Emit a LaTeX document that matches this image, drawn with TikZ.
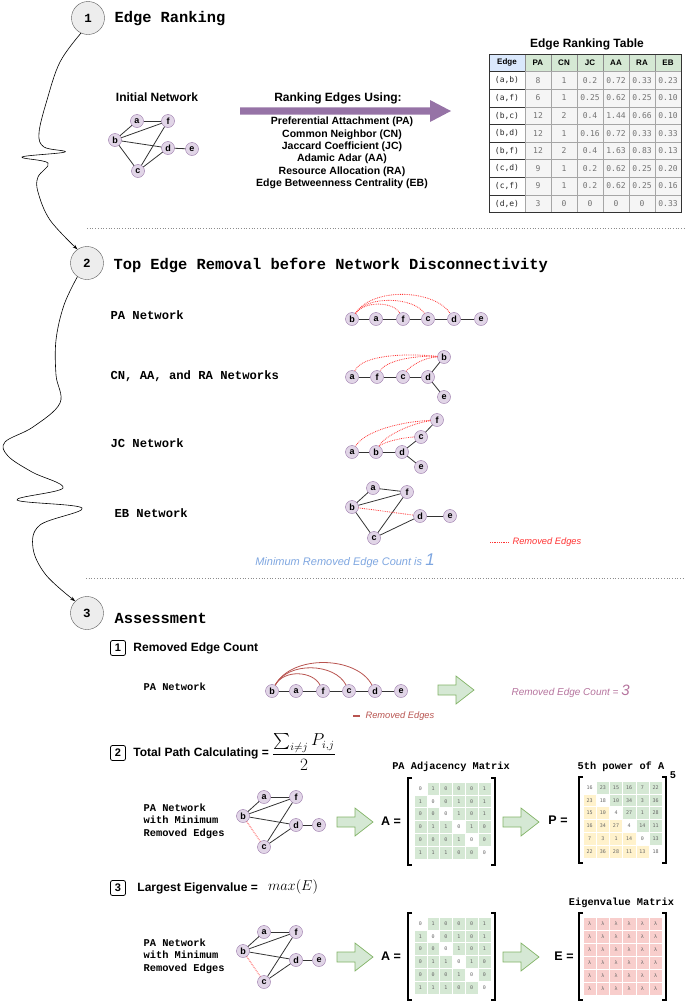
\documentclass[tikz,border=0pt]{standalone}
\usepackage[no-math]{fontspec}
\usepackage{amsmath,amssymb}
\setmainfont{Liberation Sans}
\setmonofont{Liberation Mono}
\newfontfamily\cellfont{DejaVu Sans Mono}
\usetikzlibrary{arrows.meta,positioning,calc}

\definecolor{vfill}{HTML}{E1D5E7}
\definecolor{vdraw}{HTML}{9673A6}
\definecolor{gfill}{HTML}{D5E8D4}
\definecolor{gdraw}{HTML}{82B366}
\definecolor{bfill}{HTML}{DAE8FC}
\definecolor{rfill}{HTML}{F8CECC}
\definecolor{rdraw}{HTML}{B85450}
\definecolor{yfill}{HTML}{FFF2CC}
\definecolor{cellgray}{HTML}{F5F5F5}
\definecolor{pinktext}{HTML}{B5739D}
\definecolor{bluetext}{HTML}{7EA6E0}
\definecolor{legred}{HTML}{FF3333}
\definecolor{arrowpurple}{HTML}{9673A6}

\tikzset{
  vtx/.style={circle, draw=vdraw, fill=vfill, inner sep=0pt, minimum size=13pt, font=\bfseries\fontsize{9}{9}\selectfont},
  link/.style={draw=black!80, line width=0.8pt},
  cut/.style={draw=legred, densely dotted, line width=0.8pt},
  cutsolid/.style={draw=rdraw, line width=0.8pt},
  stepcirc/.style={circle, draw=black!65, fill=black!7, minimum size=33pt, inner sep=0pt, font=\ttfamily\bfseries\fontsize{12.5}{12.5}\selectfont},
  stepbox/.style={draw, line width=0.8pt, rounded corners=2pt, minimum size=15pt, inner sep=0pt, font=\bfseries\fontsize{11}{11}\selectfont},
  sectitle/.style={anchor=west, font=\ttfamily\bfseries\fontsize{15.4}{16}\selectfont},
  netlabel/.style={anchor=west, font=\ttfamily\bfseries\fontsize{12.2}{13}\selectfont},
  sublabel/.style={anchor=west, align=left, font=\ttfamily\bfseries\fontsize{10.4}{12.5}\selectfont},
  subhead/.style={anchor=west, font=\bfseries\fontsize{12}{14}\selectfont},
  boldtext/.style={font=\bfseries\fontsize{12}{14}\selectfont},
  listtext/.style={inner sep=0pt, font=\bfseries\fontsize{10.5}{12}\selectfont},
  mtitle/.style={font=\ttfamily\bfseries\fontsize{10.3}{12}\selectfont},
  mlabel/.style={font=\bfseries\fontsize{12.5}{14}\selectfont},
  mcell/.style={inner sep=0pt, text=black!60, font=\cellfont\fontsize{5}{6}\selectfont},
  tcell/.style={inner sep=0pt, text=black!55, font=\cellfont\fontsize{8}{9}\selectfont},
  thead/.style={inner sep=0pt, font=\bfseries\fontsize{8}{9}\selectfont},
  legtext/.style={font=\itshape\fontsize{9.3}{11}\selectfont},
  wiggle/.style={line width=0.6pt, -{Stealth[length=5pt,width=3.5pt]}},
  garrow/.pic={\draw[draw=gdraw, fill=gfill, line width=0.7pt] (0,-5) -- (18,-5) -- (18,-14) -- (36,0) -- (18,14) -- (18,5) -- (0,5) -- cycle;}
}

\begin{document}
\begin{tikzpicture}[x=1pt,y=-1pt]
\useasboundingbox (0,0) rectangle (685,1002);

% Step 1: edge ranking
\node[stepcirc] (one) at (88,18) {1};
\node[sectitle] (onetitle) at (111,19) {Edge Ranking};

% Initial network
\node[boldtext] (initlabel) at (157,97) {Initial Network};
\foreach \n/\px/\py in {a/137/121, f/168/121, b/115/140, d/168/148, e/192/149, c/138/171}
  \node[vtx] (i\n) at (\px,\py) {\n};
\foreach \p/\q in {a/f, b/a, b/f, b/d, b/c, c/f, c/d, d/e}
  \draw[link] (i\p) -- (i\q);

% Ranking arrow and measures
\fill[arrowpurple] (240,107.3) -- (430,107.3) -- (430,100) -- (451,111) -- (430,122) -- (430,114.7) -- (240,114.7) -- cycle;
\node[boldtext] (rankhead) at (338,98) {Ranking Edges Using:};
\foreach \t [count=\k] in {Preferential Attachment (PA), Common Neighbor (CN), Jaccard Coefficient (JC), Adamic Adar (AA), Resource Allocation (RA), Edge Betweenness Centrality (EB)}
  \node[listtext] (rank\k) at (342,{109.6+12.4*\k}) {\t};

% Edge ranking table
\node[boldtext] (tabtitle) at (587,44) {Edge Ranking Table};
\draw[draw=black!45, fill=bfill] (489,54) rectangle ++(36,17.6);
\node[thead] (h0) at (507,62.8) {Edge};
\foreach \h [count=\k] in {PA,CN,JC,AA,RA,EB} {
  \draw[draw=black!45, fill=gfill] ({525+26*(\k-1)},54) rectangle ++(26,17.6);
  \node[thead] (h\k) at ({538+26*(\k-1)},62.8) {\h};
}
\foreach \src/\dst/\vpa/\vcn/\vjc/\vaa/\vra/\veb [count=\r] in {a/b/8/1/0.2/0.72/0.33/0.23, a/f/6/1/0.25/0.62/0.25/0.10, b/c/12/2/0.4/1.44/0.66/0.10, b/d/12/1/0.16/0.72/0.33/0.33, b/f/12/2/0.4/1.63/0.83/0.13, c/d/9/1/0.2/0.62/0.25/0.20, c/f/9/1/0.2/0.62/0.25/0.16, d/e/3/0/0/0/0/0.33} {
  \draw[draw=black!80, fill=white] (489,{54+17.6*\r}) rectangle ++(36,17.6);
  \node[tcell, text=black!85] (e\r) at (507,{62.8+17.6*\r}) {(\src,\dst)};
  \foreach \val [count=\k] in {\vpa,\vcn,\vjc,\vaa,\vra,\veb} {
    \draw[draw=black!35, fill=cellgray] ({525+26*(\k-1)},{54+17.6*\r}) rectangle ++(26,17.6);
    \node[tcell] (t\r-\k) at ({538+26*(\k-1)},{62.8+17.6*\r}) {\val};
  }
}
\draw[black!80, line width=0.8pt] (489,54) rectangle (681,212.4);

% Separator
\draw[black!45, dotted, line width=0.7pt] (87,228) -- (685,228);

% Step 2: top edge removal
\node[stepcirc] (two) at (87,263) {2};
\node[sectitle] (twotitle) at (110,265) {Top Edge Removal before Network Disconnectivity};
\draw[wiggle] plot[smooth, tension=0.6] coordinates {(one.245) (60,62) (47,100) (39,133) (44,147) (65,152) (22,157) (48,163) (38,177) (38,192) (50,220) (two.125)};

% PA network
\node[netlabel] (palabel) at (107,315) {PA Network};
\foreach \n/\px in {b/352, a/376, f/403, c/428, d/454, e/481}
  \node[vtx] (pa\n) at (\px,319) {\n};
\foreach \p/\q in {b/a, a/f, f/c, c/d, d/e}
  \draw[link] (pa\p) -- (pa\q);
\draw[cut] (pab) .. controls +(12,-18) and +(-10,-18) .. (paf);
\draw[cut] (pab) .. controls +(15,-24) and +(-14,-22) .. (pac);
\draw[cut] (pab) .. controls +(20,-32) and +(-20,-30) .. (pad);

% CN, AA and RA network
\node[netlabel] (cnlabel) at (107,376) {CN, AA, and RA Networks};
\foreach \n/\px/\py in {a/352/377, f/377/377, c/403/377, d/428/377, b/444/357, e/444/397}
  \node[vtx] (cn\n) at (\px,\py) {\n};
\foreach \p/\q in {a/f, f/c, c/d, d/b, d/e}
  \draw[link] (cn\p) -- (cn\q);
\draw[cut] (cnb) .. controls +(-40,-4) and +(10,-22) .. (cna);
\draw[cut] (cnb) .. controls +(-30,-2) and +(8,-16) .. (cnf);
\draw[cut] (cnb) .. controls +(-20,0) and +(6,-10) .. (cnc);

% JC network
\node[netlabel] (jclabel) at (107,443) {JC Network};
\foreach \n/\px/\py in {a/352/452, b/376/452, d/402/452, c/421/437, f/437/420, e/421/467}
  \node[vtx] (jc\n) at (\px,\py) {\n};
\foreach \p/\q in {a/b, b/d, d/c, c/f, d/e}
  \draw[link] (jc\p) -- (jc\q);
\draw[cut] (jcf) .. controls +(-40,2) and +(12,-20) .. (jca);
\draw[cut] (jcf) .. controls +(-25,3) and +(8,-16) .. (jcb);
\draw[cut] (jcc) .. controls +(-15,0) and +(6,-10) .. (jcb);

% EB network
\node[netlabel] (eblabel) at (111,513) {EB Network};
\foreach \n/\px/\py in {a/373/488, f/407/492, b/352/507, d/420/516, e/450/516, c/374/538}
  \node[vtx] (eb\n) at (\px,\py) {\n};
\foreach \p/\q in {a/b, a/f, b/f, b/c, c/f, c/d, d/e}
  \draw[link] (eb\p) -- (eb\q);
\draw[cut] (ebb) -- (ebd);

% Legend and result
\coordinate (cutA) at (490,542);
\coordinate (cutB) at (509,542);
\draw[cut] (cutA) -- (cutB);
\node[legtext, text=legred, right=0pt of cutB] (cutlegend) {Removed Edges};
\node[text=bluetext, font=\itshape\fontsize{11}{13}\selectfont] (mincount) at (345,561) {Minimum Removed Edge Count is {\fontsize{17}{17}\selectfont 1}};

% Separator
\draw[black!45, dotted, line width=0.7pt] (86,578) -- (685,578);

% Step 3: assessment
\node[stepcirc] (three) at (87,613) {3};
\node[sectitle] (threetitle) at (111,618) {Assessment};
\draw[wiggle] plot[smooth, tension=0.6] coordinates {(two.235) (64,305) (56,340) (56,375) (60,403) (33,427) (5,442) (8,456) (32,472) (63,488) (17,500) (82,508) (40,525) (33,548) (46,575) (three.135)};

% 3.1 removed edge count
\node[stepbox] (boxone) at (118,648) {1};
\node[subhead, right=4pt of boxone] (boxonetitle) {Removed Edge Count};
\node[sublabel] (rclabel) at (140,687) {PA Network};
\foreach \n/\px in {b/272, a/296, f/323, c/349, d/375, e/401}
  \node[vtx] (rc\n) at (\px,691) {\n};
\foreach \p/\q in {b/a, a/f, f/c, c/d, d/e}
  \draw[link] (rc\p) -- (rc\q);
\draw[cutsolid] (rcb) .. controls +(12,-22) and +(-10,-20) .. (rcf);
\draw[cutsolid] (rcb) .. controls +(16,-30) and +(-14,-28) .. (rcc);
\draw[cutsolid] (rcb) .. controls +(20,-37) and +(-18,-35) .. (rcd);
\coordinate (solA) at (353,716);
\coordinate (solB) at (360,716);
\draw[rdraw, line width=1.6pt] (solA) -- (solB);
\node[legtext, text=rdraw, right=2pt of solB] (sollegend) {Removed Edges};
\pic at (438,690) {garrow};
\node[anchor=west, text=pinktext, font=\itshape\fontsize{10}{12}\selectfont] (rcresult) at (508,691) {Removed Edge Count = {\fontsize{15}{15}\selectfont 3}};

% 3.2 total path
\node[stepbox] (boxtwo) at (118,753) {2};
\node[subhead, right=4pt of boxtwo] (boxtwotitle) {Total Path Calculating =};
\node[font=\fontsize{16}{18}\selectfont] (pathfrac) at (304,752) {$\dfrac{\sum_{i\neq j} P_{i,j}}{2}$};

% 3.3 largest eigenvalue
\node[stepbox] (boxthree) at (118,888) {3};
\node[subhead, right=8pt of boxthree] (boxthreetitle) {Largest Eigenvalue =};
\node[font=\fontsize{15}{17}\selectfont] (maxe) at (293,887) {$max(E)$};

% Network with minimum removed edges and its adjacency matrix
\foreach \dy/\s in {0/p, 135/q} {
  \node[sublabel] (ml\s) at (140,{821+\dy}) {PA Network\\with Minimum\\Removed Edges};
  \foreach \n/\px/\py in {a/264/797, f/296/797, b/243/816, d/296/825, e/319/825, c/264/847}
    \node[vtx] (m\s\n) at (\px,{\py+\dy}) {\n};
  \foreach \p/\q in {a/b, a/f, b/f, b/d, c/f, c/d, d/e}
    \draw[link] (m\s\p) -- (m\s\q);
  \draw[cut] (m\s b) -- (m\s c);
  \pic at (337,{822+\dy}) {garrow};
  \node[mlabel] (Alabel\s) at (391,{821.5+\dy}) {A =};
  \foreach \row [count=\i] in {{0,1,0,0,0,1},{1,0,0,1,0,1},{0,0,0,1,0,1},{0,1,1,0,1,0},{0,0,0,1,0,0},{1,1,1,0,0,0}} {
    \foreach \val [count=\j] in \row {
      \ifnum\i=\j\relax\else
        \fill[gfill, draw=white, line width=0.4pt] ({414+12.8*(\j-1)},{782+\dy+12.8*(\i-1)}) rectangle ++(12.8,12.8);
      \fi
      \node[mcell] (A\s-\i-\j) at ({420.4+12.8*(\j-1)},{788.4+\dy+12.8*(\i-1)}) {\val};
    }
  }
  \draw[line width=1.2pt] (412,{778+\dy}) -- (408,{778+\dy}) -- (408,{865+\dy}) -- (412,{865+\dy});
  \draw[line width=1.2pt] (491,{778+\dy}) -- (495,{778+\dy}) -- (495,{865+\dy}) -- (491,{865+\dy});
  \pic at (503,{822+\dy}) {garrow};
}
\node[mtitle] (Atitle) at (451,767) {PA Adjacency Matrix};

% Fifth power of A
\node[mtitle] (Ptitle) at (621,767) {5th power of A};
\node[mtitle] (Ppower) at (673,775) {5};
\node[mlabel] (Plabel) at (558,820.5) {P =};
\foreach \row [count=\i] in {{16,23,15,16,7,22},{23,18,10,34,3,36},{15,10,4,27,1,28},{16,34,27,4,14,11},{7,3,1,14,0,13},{22,36,28,11,13,18}} {
  \foreach \val [count=\j] in \row {
    \ifnum\j>\i\relax
      \fill[gfill, draw=white, line width=0.4pt] ({583+13.2*(\j-1)},{781+12.8*(\i-1)}) rectangle ++(13.2,12.8);
    \fi
    \ifnum\j<\i\relax
      \fill[yfill, draw=white, line width=0.4pt] ({583+13.2*(\j-1)},{781+12.8*(\i-1)}) rectangle ++(13.2,12.8);
    \fi
    \node[mcell] (P-\i-\j) at ({589.6+13.2*(\j-1)},{787.4+12.8*(\i-1)}) {\val};
  }
}
\draw[line width=1.2pt] (583,777) -- (579,777) -- (579,863) -- (583,863);
\draw[line width=1.2pt] (662,777) -- (666,777) -- (666,863) -- (662,863);

% Eigenvalue matrix
\node[mtitle] (Etitle) at (621.5,903) {Eigenvalue Matrix};
\node[mlabel] (Elabel) at (564,956.5) {E =};
\foreach \i in {1,...,6} {
  \foreach \j in {1,...,6} {
    \fill[rfill, draw=white, line width=0.4pt] ({583+13.2*(\j-1)},{917+13*(\i-1)}) rectangle ++(13.2,13);
    \node[mcell] (E-\i-\j) at ({589.6+13.2*(\j-1)},{923.5+13*(\i-1)}) {λ};
  }
}
\draw[line width=1.2pt] (583,913) -- (579,913) -- (579,1000) -- (583,1000);
\draw[line width=1.2pt] (662,913) -- (666,913) -- (666,1000) -- (662,1000);

\end{tikzpicture}
\end{document}
